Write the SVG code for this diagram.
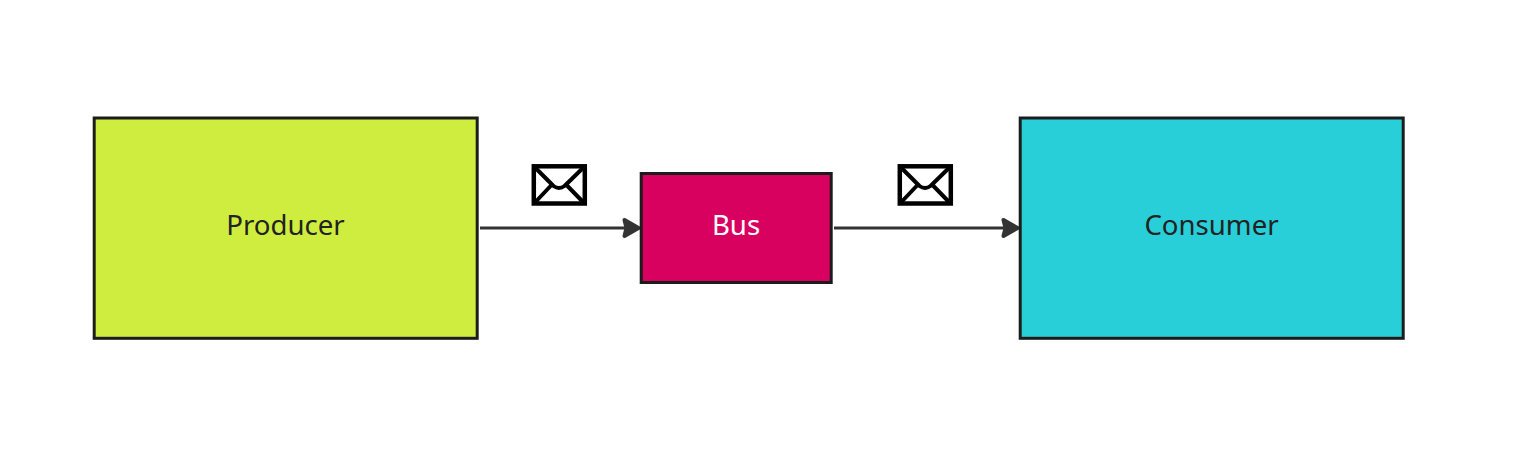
<svg xmlns="http://www.w3.org/2000/svg" width="1518" height="470" viewBox="0 0 1518 470">
<style>
.box{stroke:#1c1c1c;stroke-width:3}
.lbl{font-family:"Noto Sans","Open Sans",sans-serif;font-size:27.6px;text-anchor:middle;fill:#222}
.edge{stroke:#333;stroke-width:3;fill:none}
.head{fill:#333;stroke:#333;stroke-width:4;stroke-linejoin:round}
.env{fill:#fff;stroke:#000;stroke-width:4.500}
.fold{fill:none;stroke:#000;stroke-width:4;stroke-linejoin:round}
</style>
<defs>
<g id="envelope">
<rect class="env" x="2.300" y="2.300" width="51" height="37.200"/>
<path class="fold" d="M3 3L22 22Q27.500 26 33 22L52.500 3M3 39L20 21M52.500 39L35 21"/>
</g>
<path id="arrowhead" d="M-15 -8L-1 0L-15 8L-13 0Z"/>
</defs>
<rect width="1518" height="470" fill="#fff"/>
<g id="connectors">
<path class="edge" d="M480 228H636"/>
<use href="#arrowhead" class="head" x="639.500" y="228"/>
<path class="edge" d="M834 228H1015"/>
<use href="#arrowhead" class="head" x="1018.500" y="228"/>
</g>
<g id="producer">
<rect class="box" x="94.200" y="118" width="383" height="220.300" fill="#cfed3f"/>
<text class="lbl" x="285.500" y="234.500">Producer</text>
</g>
<g id="bus">
<rect class="box" x="641.200" y="173.500" width="190" height="109" fill="#d80160"/>
<text class="lbl" x="736" y="234.500" style="fill:#fff">Bus</text>
</g>
<g id="consumer">
<rect class="box" x="1020.200" y="118" width="383" height="220.300" fill="#29cfd8"/>
<text class="lbl" x="1211.500" y="234.500">Consumer</text>
</g>
<g id="message-1"><use href="#envelope" x="531.500" y="164"/></g>
<g id="message-2"><use href="#envelope" x="897.500" y="164"/></g>
</svg>
